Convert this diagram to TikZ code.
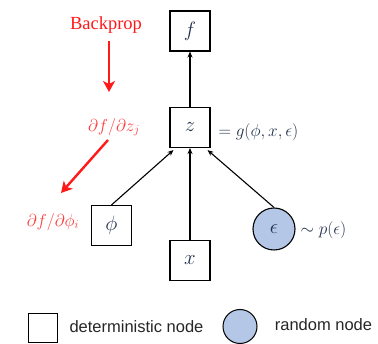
\documentclass[tikz,border=0pt]{standalone}
\usepackage{fontspec}
\setmainfont{Liberation Serif}
\setsansfont{Liberation Sans}
\usetikzlibrary{arrows.meta}
\definecolor{mathc}{HTML}{22304C}
\definecolor{rnd}{HTML}{B4C7E7}
\definecolor{bred}{HTML}{FF1A1A}
\definecolor{lred}{HTML}{FF3A3A}
\tikzset{
  box/.style={draw=black, line width=1.1pt, minimum size=40pt, inner sep=0pt, text=mathc, font=\fontsize{21}{24}\selectfont},
  rnode/.style={circle, draw=black, line width=1.1pt, fill=rnd, minimum size=42pt, inner sep=0pt, text=mathc, font=\fontsize{21}{24}\selectfont},
  conn/.style={line width=1.1pt, -{Stealth[length=6pt,width=5pt]}},
  redarr/.style={bred, line width=2.4pt, -{Stealth[length=11pt,width=12pt,inset=3pt]}},
  redlab/.style={text=lred, font=\fontsize{17}{20}\selectfont},
  mlab/.style={text=mathc, font=\fontsize{17}{20}\selectfont},
  leglab/.style={text=black!85, font=\sffamily\fontsize{16.5}{20}\selectfont},
}
\begin{document}
\begin{tikzpicture}[x=1pt,y=-1pt]
\useasboundingbox (0,0) rectangle (378,344);
% main nodes
\node[box] (f) at (190,31) {$f$};
\node[box] (z) at (190,127.5) {$z$};
\node[box] (phi) at (111.5,225.5) {$\phi$};
\node[box] (x) at (190,260.5) {$x$};
\node[rnode] (eps) at (274,229) {$\epsilon$};
% connectors
\draw[conn] (z) -- (f);
\draw[conn] (phi.north) -- ([xshift=4pt,yshift=-2pt]z.south west);
\draw[conn] (x) -- (z);
\draw[conn] (eps.north) -- ([xshift=-3pt,yshift=-2pt]z.south east);
% math labels
\node[mlab, anchor=west] (zeq) at (215,132) {$= g(\phi, x, \epsilon)$};
\node[mlab, anchor=west] (peps) at (297,230) {$\sim p(\epsilon)$};
% backprop
\node[text=bred, font=\fontsize{18.5}{22}\selectfont] (bp) at (106,25) {Backprop};
\node[redlab] (dz) at (114,127) {$\partial f/\partial z_j$};
\node[redlab] (dphi) at (53,222) {$\partial f/\partial \phi_i$};
\coordinate (r1s) at (109,41);
\coordinate (r1e) at (109,92);
\coordinate (r2s) at (108,140);
\coordinate (r2e) at (61,193);
\draw[redarr] (r1s) -- (r1e);
\draw[redarr] (r2s) -- (r2e);
% legend
\node[draw=black, line width=1.1pt, minimum size=29pt, inner sep=0pt] (lbox) at (43,328) {};
\node[leglab] (ldet) at (136.5,326.5) {deterministic node};
\node[circle, draw=black, line width=1pt, fill=rnd, minimum size=34pt, inner sep=0pt] (lcirc) at (240,326.5) {};
\node[leglab] (lrnd) at (323.5,325) {random node};
\end{tikzpicture}
\end{document}
